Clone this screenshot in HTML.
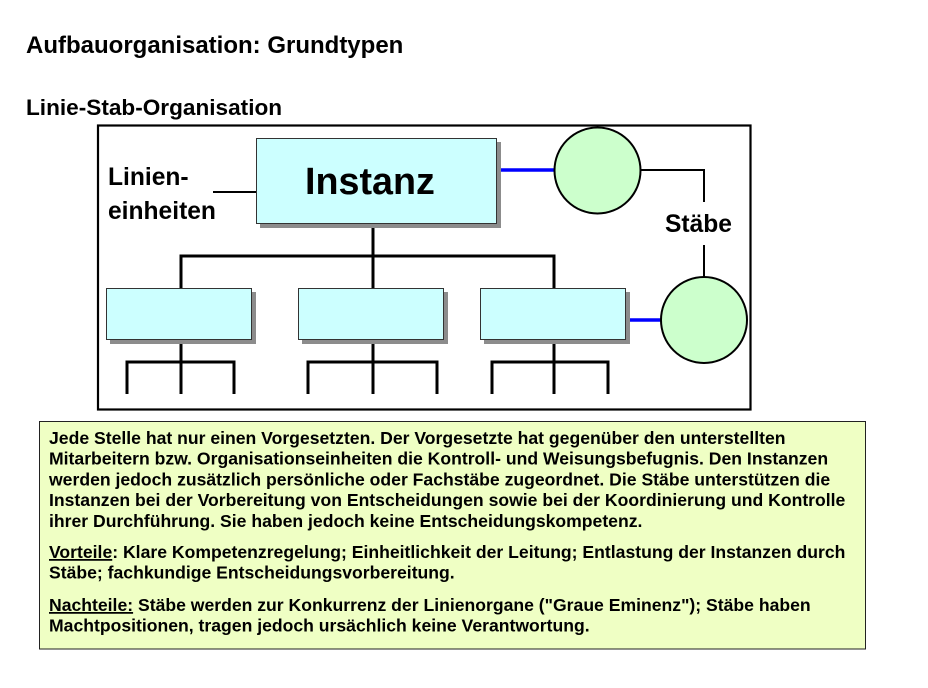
<!DOCTYPE html>
<html><head><meta charset="utf-8"><style>
html,body{margin:0;padding:0;background:#fff;}
svg{display:block;}
text{font-family:"Liberation Sans",Arial,sans-serif;font-weight:bold;fill:#000;}
</style></head><body>
<svg width="928" height="688" viewBox="0 0 928 688" xmlns="http://www.w3.org/2000/svg">
<rect width="928" height="688" fill="#fff"/>
<text x="26" y="53" font-size="24">Aufbauorganisation: Grundtypen</text>
<text x="26" y="115" font-size="22.6">Linie-Stab-Organisation</text>

<rect x="98" y="125.5" width="652.5" height="284" fill="#fff" stroke="#000" stroke-width="2.2"/>

<g stroke="#000" stroke-width="3" fill="none" stroke-linecap="butt">
<line x1="373" y1="224" x2="373" y2="288"/>
<polyline points="181,288 181,256 554,256 554,288"/>
<line x1="181" y1="340" x2="181" y2="394"/>
<polyline points="127,394 127,362 234,362 234,394"/>
<line x1="373" y1="340" x2="373" y2="394"/>
<polyline points="308,394 308,362 437,362 437,394"/>
<line x1="554" y1="340" x2="554" y2="394"/>
<polyline points="492,394 492,362 608,362 608,394"/>
</g>
<g stroke="#000" stroke-width="2" fill="none">
<line x1="213" y1="192" x2="256" y2="192"/>
<polyline points="641,170 704,170 704,202"/>
<line x1="704" y1="245" x2="704" y2="277"/>
</g>
<g stroke="#0000ff" stroke-width="3.5">
<line x1="497" y1="170" x2="555" y2="170"/>
<line x1="626" y1="320" x2="662" y2="320"/>
</g>

<g fill="#8c8c8c">
<rect x="260" y="142" width="241" height="86"/>
<rect x="110" y="292" width="146" height="52"/>
<rect x="302" y="292" width="146" height="52"/>
<rect x="484" y="292" width="146" height="52"/>
</g>
<g fill="#ccffff" stroke="#333" stroke-width="1">
<rect x="256.5" y="138.5" width="240" height="85"/>
<rect x="106.5" y="288.5" width="145" height="51"/>
<rect x="298.5" y="288.5" width="145" height="51"/>
<rect x="480.5" y="288.5" width="145" height="51"/>
</g>
<g fill="#ccffcc" stroke="#000" stroke-width="2">
<circle cx="597.5" cy="170.5" r="43"/>
<circle cx="704" cy="320" r="43"/>
</g>

<text x="305" y="194" font-size="37.7">Instanz</text>
<text x="108" y="185" font-size="24.6">Linien-</text>
<text x="108" y="219" font-size="24.6">einheiten</text>
<text x="665" y="232" font-size="24.6">Stäbe</text>

<rect x="39.5" y="421.5" width="826" height="227.5" fill="#efffc4" stroke="#222" stroke-width="1"/>
<g font-size="17.6">
<text x="49" y="444">Jede Stelle hat nur einen Vorgesetzten. Der Vorgesetzte hat gegenüber den unterstellten</text>
<text x="49" y="464.7">Mitarbeitern bzw. Organisationseinheiten die Kontroll- und Weisungsbefugnis. Den Instanzen</text>
<text x="49" y="485.4">werden jedoch zusätzlich persönliche oder Fachstäbe zugeordnet. Die Stäbe unterstützen die</text>
<text x="49" y="506.1">Instanzen bei der Vorbereitung von Entscheidungen sowie bei der Koordinierung und Kontrolle</text>
<text x="49" y="526.8">ihrer Durchführung. Sie haben jedoch keine Entscheidungskompetenz.</text>
<text x="49" y="558"><tspan text-decoration="underline">Vorteile</tspan>: Klare Kompetenzregelung; Einheitlichkeit der Leitung; Entlastung der Instanzen durch</text>
<text x="49" y="578.7">Stäbe; fachkundige Entscheidungsvorbereitung.</text>
<text x="49" y="611"><tspan text-decoration="underline">Nachteile:</tspan> Stäbe werden zur Konkurrenz der Linienorgane ("Graue Eminenz"); Stäbe haben</text>
<text x="49" y="631.7">Machtpositionen, tragen jedoch ursächlich keine Verantwortung.</text>
</g>
</svg>
</body></html>
